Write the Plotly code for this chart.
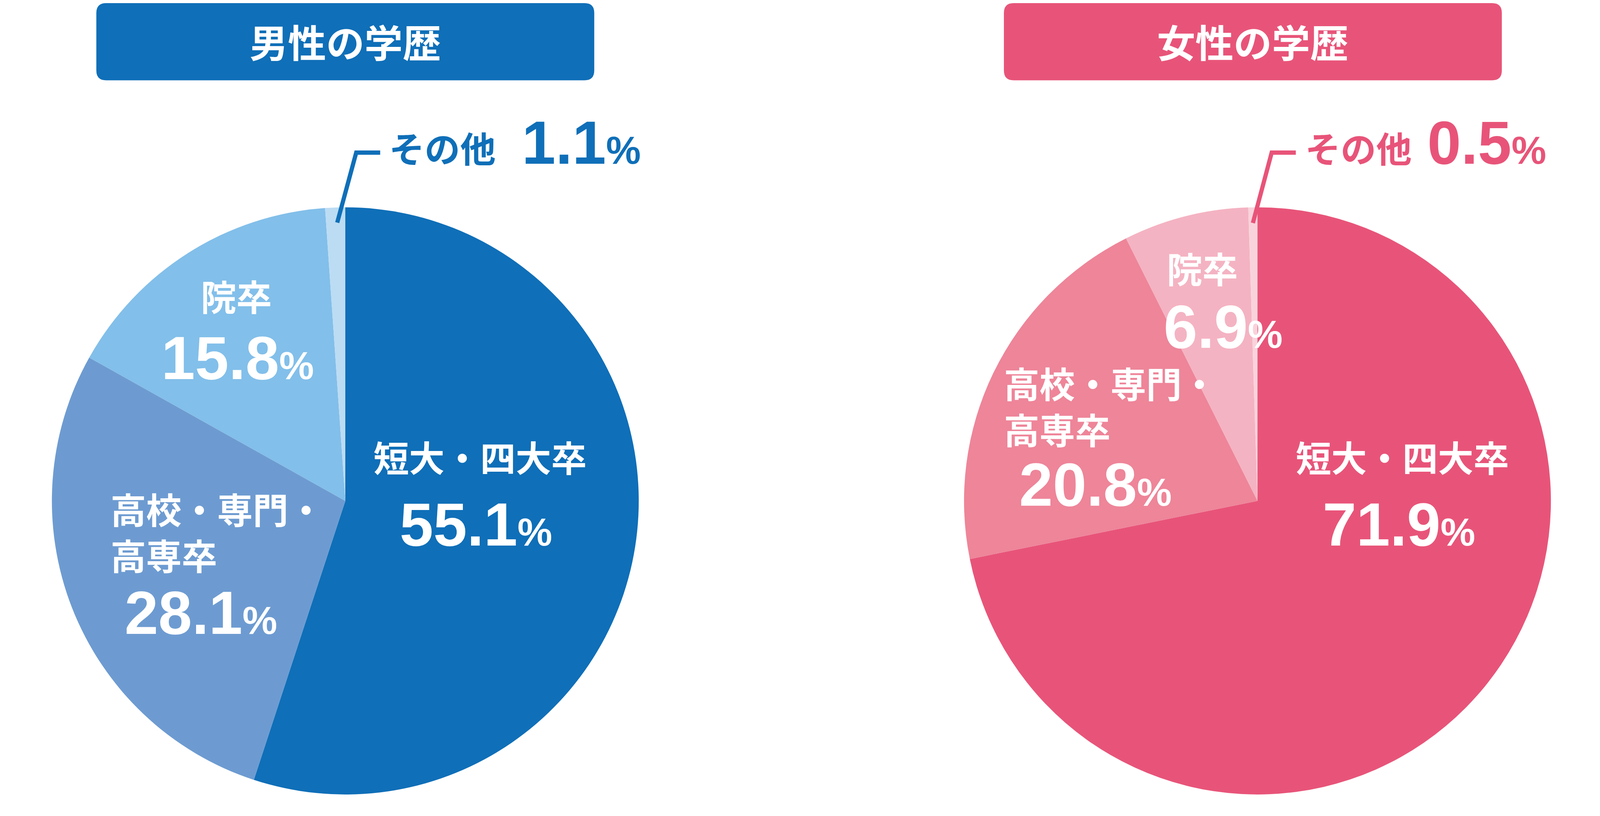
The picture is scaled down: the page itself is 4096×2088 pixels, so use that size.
import plotly.graph_objects as go

# ---- data ----
categories = ["短大・四大卒", "高校・専門・高専卒", "院卒", "その他"]
male_values = [55.1, 28.1, 15.8, 1.1]
female_values = [71.9, 20.8, 6.9, 0.5]
male_colors = ["#0f6fb8", "#6d9bd1", "#82bfea", "#bcdcf3"]
female_colors = ["#e85479", "#ee8599", "#f4b3c2", "#f9d3dc"]
titles = ["男性の学歴", "女性の学歴"]
title_colors = ["#0f6fb8", "#e85479"]

W, H = 4096, 2088
JP = "Noto Sans CJK JP"
NUM = "Liberation Sans, Arial, sans-serif"


def px(x):
    return x / W


def py(y):
    return 1 - y / H


R = 751.2
CY = 1273.7
centers = [876.0, 3211.1]

fig = go.Figure()
for vals, cols, cx, name in zip([male_values, female_values], [male_colors, female_colors], centers, titles):
    fig.add_trace(go.Pie(
        labels=categories, values=vals, sort=False, direction="clockwise", rotation=0,
        marker=dict(colors=cols, line=dict(width=0)), textinfo="none", name=name,
        domain=dict(x=[px(cx - R), px(cx + R)], y=[py(CY + R), py(CY - R)]),
        showlegend=False, hovertemplate="%{label}: %{value}%<extra></extra>",
    ))

shapes = []
annotations = []

# title boxes
boxes = [(238.6, 1513.3), (2562.0, 3836.7)]
rr = 25.0
for (x0, x1), t, c in zip(boxes, titles, title_colors):
    y0, y1 = 0.0, 197.4
    path = (f"M {px(x0 + rr)},{py(y0)} L {px(x1 - rr)},{py(y0)} Q {px(x1)},{py(y0)} {px(x1)},{py(y0 + rr)} "
            f"L {px(x1)},{py(y1 - rr)} Q {px(x1)},{py(y1)} {px(x1 - rr)},{py(y1)} "
            f"L {px(x0 + rr)},{py(y1)} Q {px(x0)},{py(y1)} {px(x0)},{py(y1 - rr)} "
            f"L {px(x0)},{py(y0 + rr)} Q {px(x0)},{py(y0)} {px(x0 + rr)},{py(y0)} Z")
    shapes.append(dict(type="path", xref="paper", yref="paper", path=path, fillcolor=c, line=dict(width=0), layer="below"))
    annotations.append(dict(x=px((x0 + x1) / 2), y=py(96), xref="paper", yref="paper", text=t, showarrow=False,
                            xanchor="center", yanchor="middle",
                            font=dict(family=JP, size=98, color="white", weight=700)))

# leader lines for その他
leaders = [
    ([(965.3, 382.5), (903.9, 382.5), (855.3, 561.7)], title_colors[0]),
    ([(3309.3, 382.5), (3247.5, 382.5), (3199.4, 562.7)], title_colors[1]),
]
for pts, c in leaders:
    path = "M " + " L ".join(f"{px(x)},{py(y)}" for x, y in pts)
    shapes.append(dict(type="path", xref="paper", yref="paper", path=path, line=dict(color=c, width=10.8)))


def num_text(v):
    return f"{v}<span style='font-size:100px'>%</span>"


def kanji(x, y, text, color="white", anchor="center"):
    annotations.append(dict(x=px(x), y=py(y - 6), xref="paper", yref="paper", text=text, showarrow=False,
                            xanchor=anchor, yanchor="middle", align="left",
                            font=dict(family=JP, size=91, color=color, weight=700)))


def number(x, y, v, color="white", anchor="center"):
    annotations.append(dict(x=px(x), y=py(y), xref="paper", yref="paper", text=num_text(v), showarrow=False,
                            xanchor=anchor, yanchor="middle",
                            font=dict(family=NUM, size=155, color=color, weight=700)))


def two_line(label):
    # 高校・専門・高専卒 → wrapped after the second "・"
    i = label.index("・", label.index("・") + 1) + 1
    return label[:i] + "<br>" + label[i:]


# male labels
kanji(1220.6, 1165, categories[0])
number(1210.3, 1334.0, male_values[0])
kanji(272.6, 1356.5, two_line(categories[1]), anchor="left")
number(506.2, 1560.7, male_values[1])
kanji(596.6, 752.6, categories[2])
number(600.0, 908.7, male_values[2])
kanji(1124.4, 374.5, categories[3], color=title_colors[0])
number(1325.7, 357.8, male_values[3], color=title_colors[0], anchor="left")

# female labels
kanji(3581.8, 1165, categories[0])
number(3573.5, 1334.0, female_values[0])
kanji(2560.0, 1034.7, two_line(categories[1]), anchor="left")
number(2796.2, 1232.2, female_values[1])
kanji(3069.7, 682.4, categories[2])
number(3123.2, 828.6, female_values[2])
kanji(3469.4, 374.5, categories[3], color=title_colors[1])
number(3644.2, 357.3, female_values[3], color=title_colors[1], anchor="left")

fig.update_layout(
    width=W, height=H, margin=dict(l=0, r=0, t=0, b=0),
    paper_bgcolor="white", plot_bgcolor="white",
    shapes=shapes, annotations=annotations,
)
fig.write_html("out.html")
